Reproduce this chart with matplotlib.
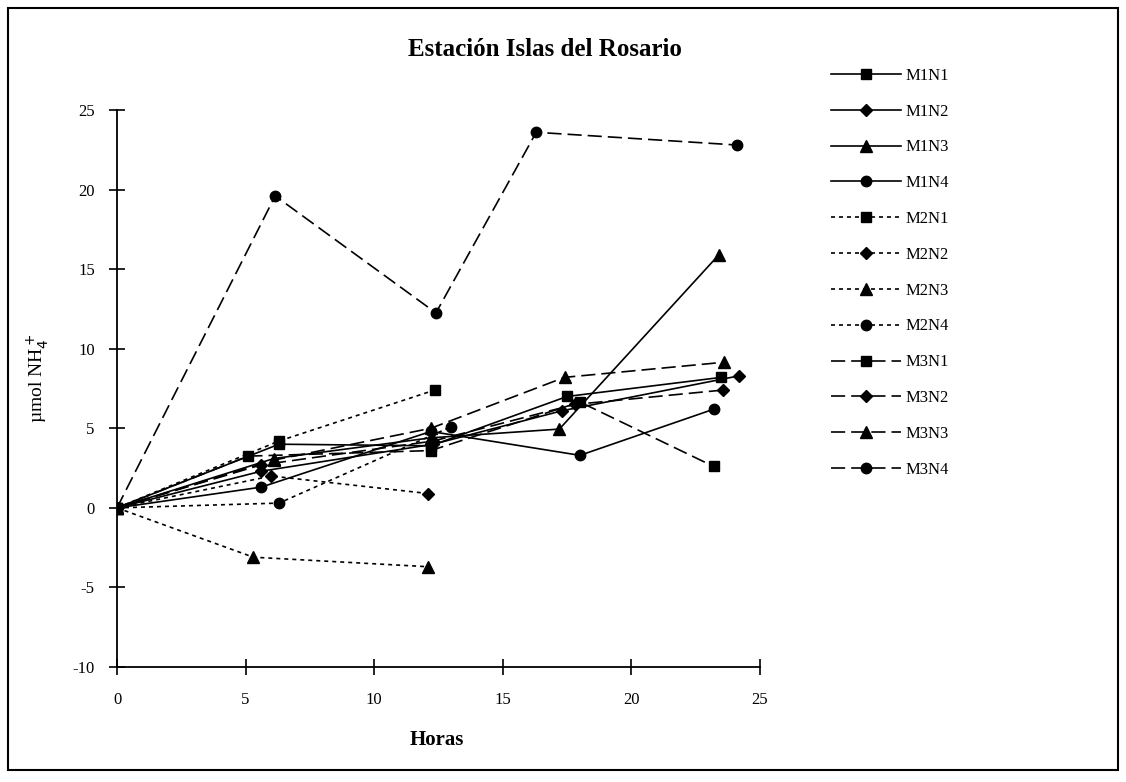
import matplotlib
matplotlib.use("Agg")
import matplotlib.pyplot as plt
from matplotlib.patches import Rectangle

# ---- data (hours, µmol NH4+) ----
hours_M1N1 = [0, 6.3, 12.2, 17.5, 23.5]
nh4_M1N1 = [0, 4.0, 3.9, 7.0, 8.2]
hours_M1N2 = [0, 5.6, 12.3, 17.3, 24.2]
nh4_M1N2 = [0, 2.3, 4.0, 6.1, 8.3]
hours_M1N3 = [0, 6.1, 12.2, 17.2, 23.4]
nh4_M1N3 = [0, 3.1, 4.4, 4.95, 15.9]
hours_M1N4 = [0, 5.6, 12.2, 18.0, 23.2]
nh4_M1N4 = [0, 1.3, 4.8, 3.3, 6.2]

hours_M2N1 = [0, 6.3, 12.35]
nh4_M2N1 = [0, 4.2, 7.4]
hours_M2N2 = [0, 6.0, 12.1]
nh4_M2N2 = [0, 2.0, 0.9]
hours_M2N3 = [0, 5.3, 12.1]
nh4_M2N3 = [0, -3.1, -3.7]
hours_M2N4 = [0, 6.3, 13.0]
nh4_M2N4 = [0, 0.3, 5.1]

hours_M3N1 = [0, 5.1, 12.2, 18.0, 23.2]
nh4_M3N1 = [0, 3.25, 3.6, 6.65, 2.6]
hours_M3N2 = [0, 5.6, 12.3, 17.8, 23.55]
nh4_M3N2 = [0, 2.7, 4.2, 6.5, 7.4]
hours_M3N3 = [0, 6.1, 12.2, 17.4, 23.6]
nh4_M3N3 = [0, 3.0, 5.0, 8.2, 9.15]
hours_M3N4 = [0, 6.15, 12.4, 16.3, 24.1]
nh4_M3N4 = [0, 19.6, 12.25, 23.6, 22.8]

labels = ["M1N1", "M1N2", "M1N3", "M1N4",
          "M2N1", "M2N2", "M2N3", "M2N4",
          "M3N1", "M3N2", "M3N3", "M3N4"]
xs = [hours_M1N1, hours_M1N2, hours_M1N3, hours_M1N4,
      hours_M2N1, hours_M2N2, hours_M2N3, hours_M2N4,
      hours_M3N1, hours_M3N2, hours_M3N3, hours_M3N4]
ys = [nh4_M1N1, nh4_M1N2, nh4_M1N3, nh4_M1N4,
      nh4_M2N1, nh4_M2N2, nh4_M2N3, nh4_M2N4,
      nh4_M3N1, nh4_M3N2, nh4_M3N3, nh4_M3N4]

x_ticks = [0, 5, 10, 15, 20, 25]
y_ticks = [-10, -5, 0, 5, 10, 15, 20, 25]

# ---- styles ----
markers = ["s", "D", "^", "o"] * 3
msizes = {"s": 7, "D": 6, "^": 8, "o": 7.5}
linestyles = ["-"] * 4 + [(0, (2.4, 2.4))] * 4 + [(0, (8.5, 3.6))] * 4

plt.rcParams["font.family"] = ["Liberation Serif", "DejaVu Serif"]
plt.rcParams["axes.unicode_minus"] = False

fig = plt.figure(figsize=(11.26, 7.82), dpi=100)
ax = fig.add_axes([117 / 1126, 1 - 667 / 782, (760 - 117) / 1126, (667 - 110) / 782])

for x, y, lab, m, ls in zip(xs, ys, labels, markers, linestyles):
    ax.plot(x, y, color="black", linestyle=ls, linewidth=1.2,
            marker=m, markersize=msizes[m], markerfacecolor="black",
            markeredgecolor="black", label=lab)

ax.set_xlim(0, 25)
ax.set_ylim(-10, 25)
ax.set_xticks(x_ticks)
ax.set_yticks(y_ticks)
ax.tick_params(direction="inout", length=12, width=1.2, labelsize=12, pad=12)
ax.tick_params(axis="y", pad=10)
for s in ["top", "right"]:
    ax.spines[s].set_visible(False)
for s in ["left", "bottom"]:
    ax.spines[s].set_linewidth(1.3)

fig.text(545 / 1126, 1 - 50 / 782, "Estación Islas del Rosario",
         ha="center", va="center", fontsize=18, fontweight="bold")
fig.text(437 / 1126, 1 - 740 / 782, "Horas", ha="center", va="center",
         fontsize=15, fontweight="bold")
fig.text(38 / 1126, 1 - 378 / 782, r"µmol NH$_4^+$", ha="center", va="center",
         rotation=90, fontsize=14)

fig.legend(loc="upper left", bbox_to_anchor=(824 / 1126, 1 - 61 / 782),
           frameon=False, handlelength=4.2, handletextpad=0.3,
           labelspacing=1.19, fontsize=12, borderaxespad=0)

fig.patches.append(Rectangle((8 / 1126, 12 / 782), 1110 / 1126, 762 / 782,
                             transform=fig.transFigure, fill=False,
                             edgecolor="black", linewidth=1.5))

fig.savefig("out.png", dpi=100)
